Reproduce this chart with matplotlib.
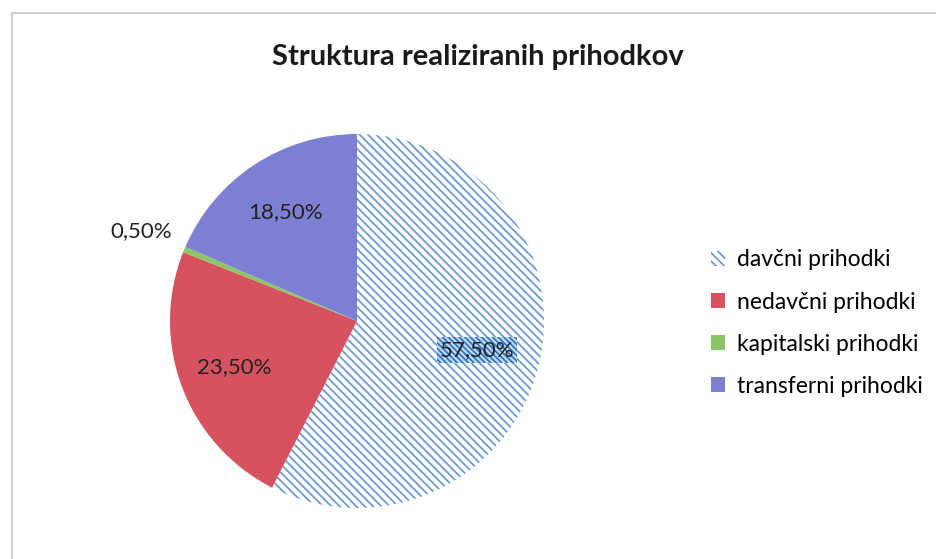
import matplotlib.pyplot as plt
import numpy as np
from matplotlib.patches import Rectangle

plt.rcParams['font.family'] = ['Lato', 'DejaVu Sans']
plt.rcParams['hatch.linewidth'] = 1.3

categories = ['davčni prihodki', 'nedavčni prihodki', 'kapitalski prihodki', 'transferni prihodki']
values = [57.5, 23.5, 0.5, 18.5]
colors = ['white', '#d6525f', '#8cc466', '#7d7fd3']
label_dist = [0.66, 0.70, 1.25, 0.70]

fig = plt.figure(figsize=(9.36, 5.59), dpi=100)

# frame round the chart area
fig.patches.append(Rectangle((12 / 936, -0.1), 1.1, 1.1 - 13 / 559, transform=fig.transFigure,
                             fill=False, edgecolor='#c8c8c8', linewidth=1.2))

ax = fig.add_axes([0.1816, 0.0912, 0.3996, 0.669])
wedges, texts = ax.pie(values, colors=colors, startangle=90, counterclock=False, radius=1)
ax.set_xlim(-1, 1)
ax.set_ylim(-1, 1)
ax.set_aspect('equal')
ax.axis('off')

# hatched first slice
wedges[0].set_hatch('\\\\\\\\')
wedges[0].set_edgecolor('#6a9ad8')
wedges[0].set_linewidth(0.01)

for i, w in enumerate(wedges):
    ang = np.deg2rad((w.theta1 + w.theta2) / 2)
    x, y = label_dist[i] * np.cos(ang), label_dist[i] * np.sin(ang)
    txt = f"{values[i]:.2f}".replace('.', ',') + '%'
    kw = {}
    if i == 0:
        kw['bbox'] = dict(facecolor='#c6dbf2', edgecolor='#2f78c8', hatch='\\\\\\\\\\\\',
                          linewidth=0, pad=2)
    ax.text(x, y, txt, ha='center', va='center', fontsize=16, color='#222222', **kw)

fig.text(0.511, 0.898, 'Struktura realiziranih prihodkov', ha='center', va='center',
         fontsize=21, fontweight='bold', color='#1a1a1a')

leg = fig.legend(wedges, categories, loc='center left', bbox_to_anchor=(0.738, 0.422),
                 frameon=False, fontsize=16.5, handlelength=0.6, handleheight=0.6,
                 handletextpad=0.5, labelspacing=0.92)
for h in leg.legend_handles:
    h.set_linewidth(0)

fig.savefig('out.png', dpi=100)
